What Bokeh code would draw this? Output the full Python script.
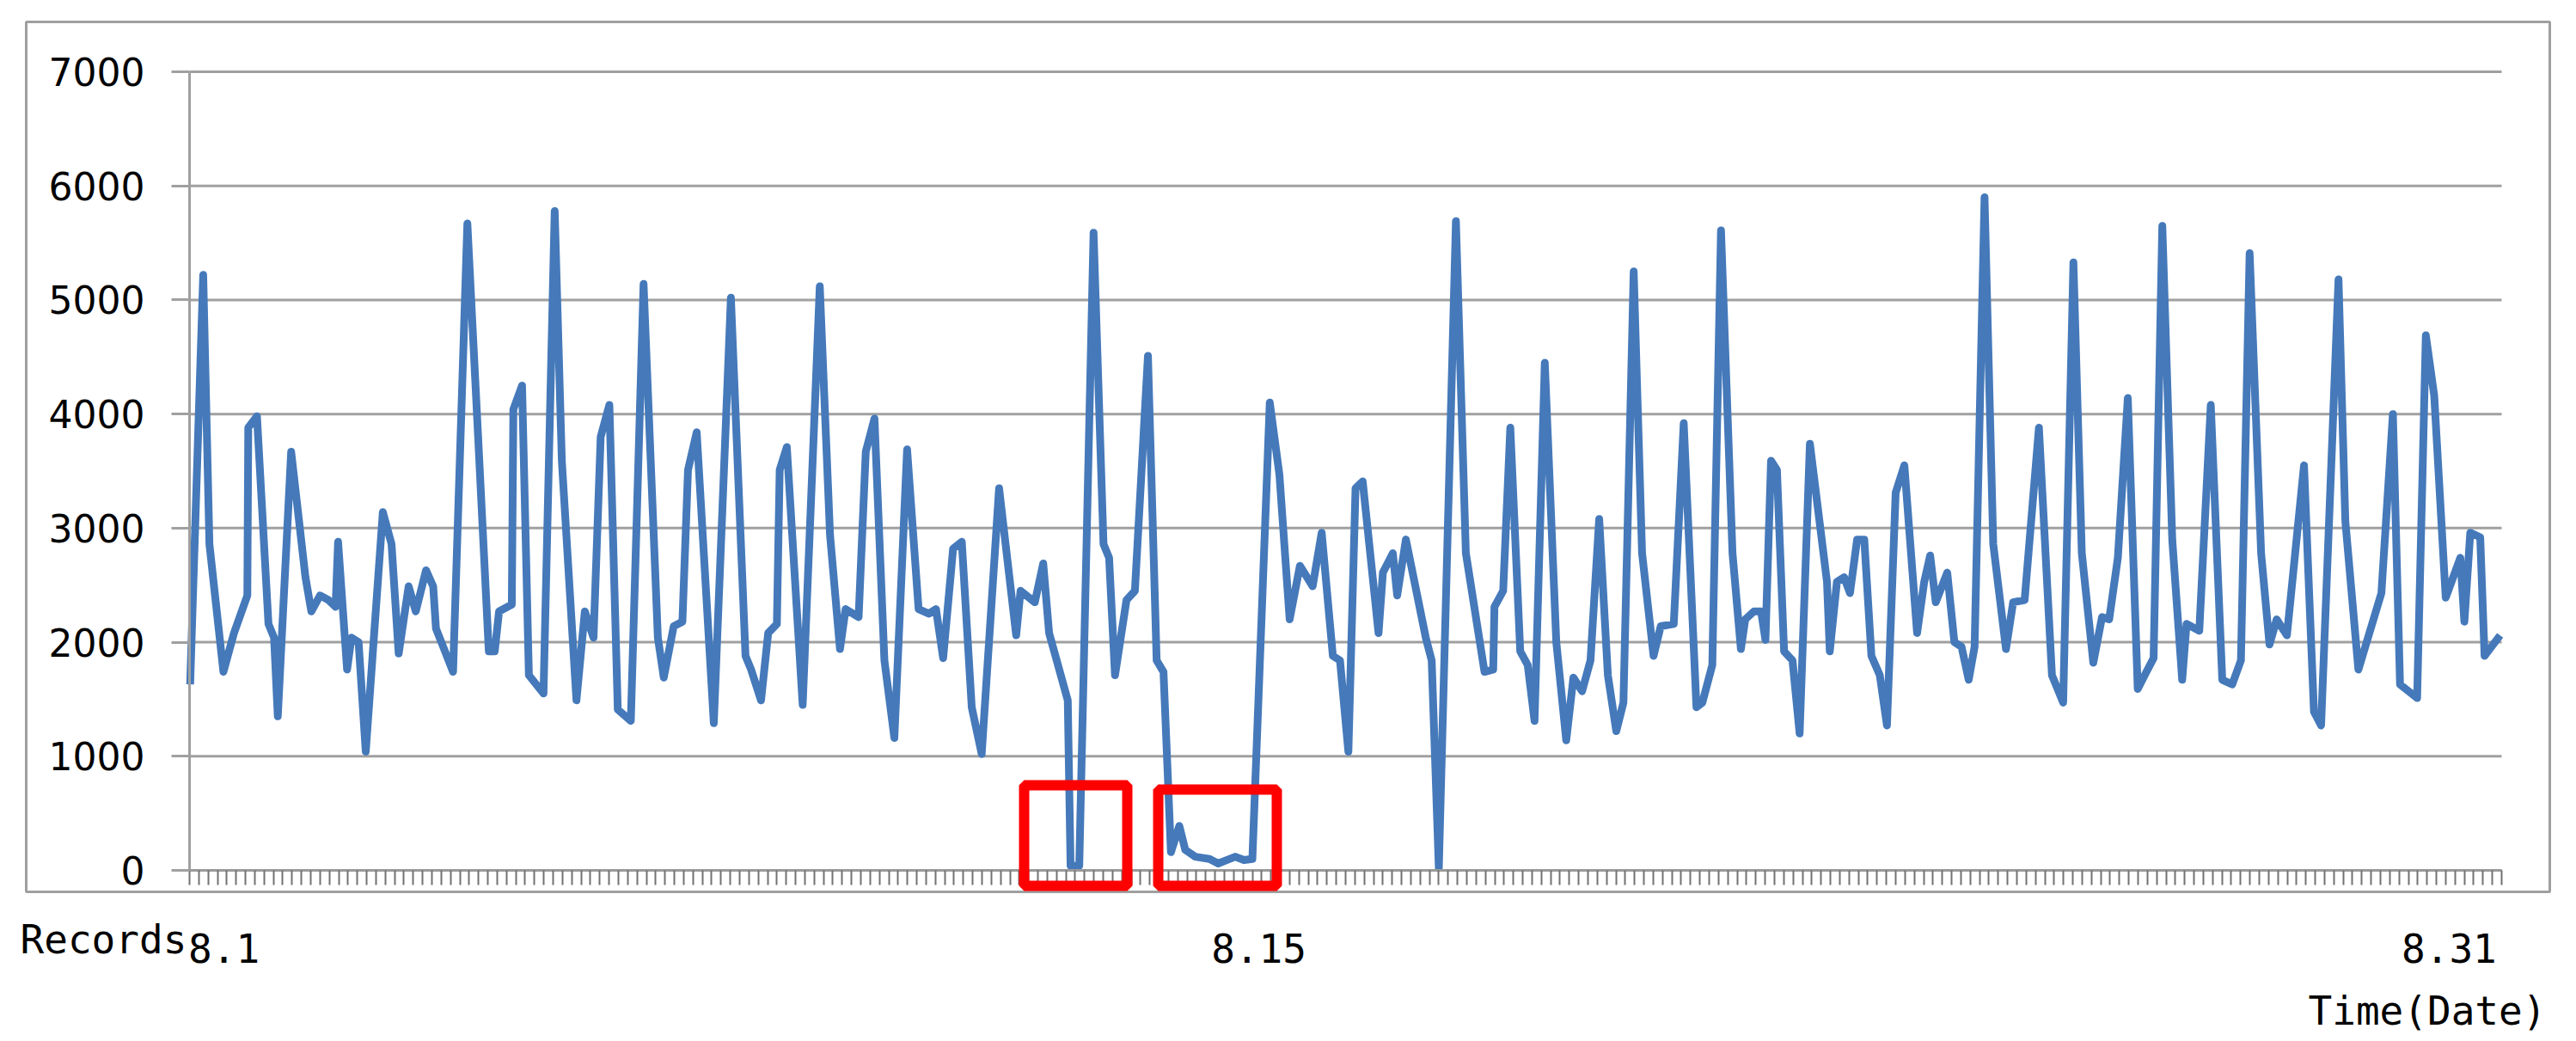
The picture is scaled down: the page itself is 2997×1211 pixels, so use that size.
from bokeh.plotting import figure
from bokeh.models import Range1d, FixedTicker, Label, BoxAnnotation, LinearAxis
from bokeh.embed import file_html
from bokeh.resources import INLINE

# time in hours from 8.1 00:00
hours = [0.2, 4.4, 6.4, 10.9, 14.3, 18.6, 18.9, 21.7, 25.4, 27.2, 28.4, 32.7, 37.3, 39.2, 42.0, 44.7,
         47.0, 47.8, 50.7, 52.1, 54.4, 56.7, 62.2, 65.0, 67.3, 70.5, 72.8, 76.1, 78.4, 79.3, 84.8, 89.4,
         93.1, 96.3, 98.2, 99.6, 103.7, 104.2, 107.0, 109.2, 113.9, 117.5, 119.8, 124.5, 127.2, 130.0,
         132.3, 135.1, 137.8, 142.0, 146.1, 150.7, 152.6, 155.8, 158.6, 160.4, 163.2, 168.7, 174.2,
         178.9, 180.7, 183.9, 186.2, 189.0, 189.9, 192.2, 197.3, 202.8, 206.1, 209.3, 211.1, 215.3,
         217.6, 220.4, 223.6, 226.8, 230.9, 234.6, 237.9, 240.2, 242.5, 245.7, 248.5, 251.7, 254.9,
         260.5, 266.0, 267.4, 272.0, 274.7, 276.6, 282.6, 283.5, 286.3, 290.9, 294.1, 295.9, 297.8,
         301.5, 304.2, 308.4, 311.2, 313.4, 315.8, 318.5, 320.4, 323.6, 328.2, 331.0, 333.7, 336.5,
         339.3, 342.0, 347.6, 350.7, 354.0, 357.3, 361.4, 364.3, 367.9, 370.2, 372.9, 375.2, 377.5,
         382.6, 384.0, 387.2, 388.6, 391.4, 397.8, 399.7, 402.0, 407.5, 410.7, 416.7, 419.5, 419.9,
         422.7, 425.0, 428.2, 430.6, 432.8, 436.1, 439.8, 443.0, 445.3, 448.1, 450.8, 453.6, 456.4,
         459.1, 461.4, 464.7, 467.4, 471.1, 473.4, 477.6, 480.8, 484.9, 486.8, 490.0, 492.8, 496.5,
         499.2, 500.6, 503.4, 505.7, 507.1, 508.9, 510.8, 513.1, 515.8, 518.1, 521.4, 526.9, 527.8,
         530.1, 532.4, 534.3, 536.6, 538.9, 541.2, 543.9, 546.2, 549.0, 551.8, 555.9, 558.2, 560.1,
         561.9, 565.6, 567.9, 570.2, 572.5, 574.4, 577.6, 580.4, 584.5, 586.8, 590.5, 595.1, 599.3,
         602.9, 606.2, 608.9, 612.6, 615.4, 617.7, 620.5, 623.7, 626.9, 629.7, 632.0, 634.8, 638.0,
         641.2, 642.6, 646.7, 650.4, 654.1, 657.3, 660.1, 662.9, 666.6, 669.3, 671.6, 674.9, 680.4,
         683.6, 685.9, 691.5, 693.7, 697.9, 705.3, 709.0, 711.3, 716.8, 719.6, 722.3, 726.0, 730.7,
         732.0, 733.9, 737.1, 738.5, 743.5]

records = [1630, 5220, 2860, 1740, 2080, 2410, 3880, 3980, 2160, 2040, 1350, 3670, 2570, 2270, 2410, 2370,
           2310, 2880, 1760, 2040, 2000, 1040, 3140, 2860, 1900, 2490, 2270, 2630, 2490, 2120, 1740, 5670,
           3670, 1920, 1920, 2270, 2330, 4040, 4250, 1710, 1550, 5780, 3590, 1490, 2270, 2040,
           3800, 4080, 1410, 1310, 5140, 2040, 1690, 2140, 2180, 3510, 3840, 1290, 5020,
           1880, 1760, 1490, 2080, 2160, 3510, 3710, 1450, 5120, 2940, 1940, 2290, 2220,
           3670, 3960, 1840, 1160, 3690, 2290, 2250, 2290, 1860, 2820, 2880, 1430, 1020,
           3350, 2060, 2450, 2350, 2690, 2080, 1490, 40, 40, 5590, 2860, 2740, 1710,
           2370, 2450, 4510, 1840, 1740, 160, 390, 180, 120, 100, 60, 90, 120,
           90, 100, 4100, 3470, 2200, 2670, 2490, 2960, 1880, 1840, 1040, 3350, 3410,
           2080, 2610, 2780, 2410, 2900, 2040, 1840, 20, 5690, 2780, 1740, 1760, 2310,
           2450, 3880, 1920, 1800, 1310, 4450, 2000, 1140, 1690, 1570, 1840, 3080, 1710,
           1220, 1470, 5250, 2780, 1880, 2140, 2160, 3920, 1430, 1470, 1800, 5610, 2780,
           1940, 2200, 2270, 2270, 2020, 3590, 3510, 1920, 1840, 1200, 3740, 2530, 1920,
           2530, 2570, 2430, 2900, 2900, 1880, 1710, 1270, 3310, 3550, 2080, 2530, 2760,
           2350, 2610, 2000, 1960, 1670, 1960, 5900, 2860, 1940, 2350, 2370, 3880, 1710,
           1470, 5330, 2780, 1820, 2220, 2200, 2740, 4140, 1590, 1740, 1860, 5650, 2900,
           1670, 2160, 2100, 4080, 1670, 1630, 1840, 5410, 2780, 1980, 2200, 2060, 3550,
           1390, 1270, 5180, 3060, 1760, 2430, 4000, 1630, 1510, 4690, 4160, 2390, 2740,
           2180, 2960, 2920, 1880, 2060]

y_ticks = [0, 1000, 2000, 3000, 4000, 5000, 6000, 7000]
tick_hours = list(range(0, 745, 3))
date_labels = ["8.1", "8.15", "8.31"]
date_label_hours = [11.1, 344.1, 727.1]
x_start, x_end = 0, 744
y_start, y_end = 0, 7000

W, H = 2997, 1211
# the plot frame covers the whole canvas; the data area is [0, 744] x [0, 7000]
p = figure(width=W, height=H, output_backend="svg", toolbar_location=None,
           x_range=Range1d(-60.85, 768.06), y_range=Range1d(-1499.5, 7625.4),
           x_axis_location=None, y_axis_location=None,
           min_border_left=0, min_border_right=0, min_border_top=0, min_border_bottom=0)
p.outline_line_color = None
p.background_fill_color = "white"
p.border_fill_color = "white"
p.xgrid.visible = False
p.ygrid.visible = False

# horizontal gridlines
p.segment(x0=[x_start] * len(y_ticks), x1=[x_end] * len(y_ticks), y0=y_ticks, y1=y_ticks,
          line_color="#a0a0a0", line_width=3)

p.line(hours, records, line_color="#4579BA", line_width=9, line_join="round")

ya = LinearAxis(fixed_location=x_start, bounds=(y_start, y_end), ticker=FixedTicker(ticks=y_ticks))
ya.axis_line_color = "#a0a0a0"
ya.axis_line_width = 3
ya.major_tick_line_color = "#a0a0a0"
ya.major_tick_line_width = 3
ya.major_tick_out = 21
ya.major_tick_in = 0
ya.minor_tick_line_color = None
ya.major_label_standoff = 31
ya.major_label_text_font = "DejaVu Sans"
ya.major_label_text_font_size = "44px"
ya.major_label_text_color = "black"
p.add_layout(ya, "left")

xa = LinearAxis(fixed_location=y_start, bounds=(x_start, x_end),
                ticker=FixedTicker(ticks=date_label_hours, minor_ticks=tick_hours))
xa.major_label_overrides = {h: t for h, t in zip(date_label_hours, date_labels)}
xa.axis_line_color = "#9a9a9a"
xa.axis_line_width = 3
xa.major_tick_line_color = None
xa.major_tick_out = 0
xa.major_tick_in = 0
xa.minor_tick_line_color = "#727272"
xa.minor_tick_line_width = 2
xa.minor_tick_out = 17
xa.minor_tick_in = 0
xa.major_label_standoff = 57
xa.major_label_text_font = "DejaVu Sans Mono"
xa.major_label_text_font_size = "46px"
xa.major_label_text_color = "black"
p.add_layout(xa, "below")

mono = "DejaVu Sans Mono"
p.add_layout(Label(x=-54.49, y=-610.3, text="Records", text_font=mono, text_font_size="46px",
                   text_align="left", text_baseline="alphabetic", text_color="black"))
p.add_layout(Label(x=681.77, y=-1235.7, text="Time(Date)", text_font=mono, text_font_size="46px",
                   text_align="left", text_baseline="alphabetic", text_color="black"))

# outer chart border
p.add_layout(BoxAnnotation(left=-52.55, right=759.49, top=7437.1, bottom=-188.4,
                           fill_alpha=0, line_color="#a0a0a0", line_alpha=1, line_width=3))
# highlighted zero-record regions
for l, r, t in [(268.56, 301.75, 746.0), (311.71, 349.87, 708.3)]:
    p.add_layout(BoxAnnotation(left=l, right=r, top=t, bottom=-135.6,
                               fill_alpha=0, line_color="#ff0000", line_alpha=1, line_width=12))

open("out.html", "w").write(file_html(p, INLINE))
